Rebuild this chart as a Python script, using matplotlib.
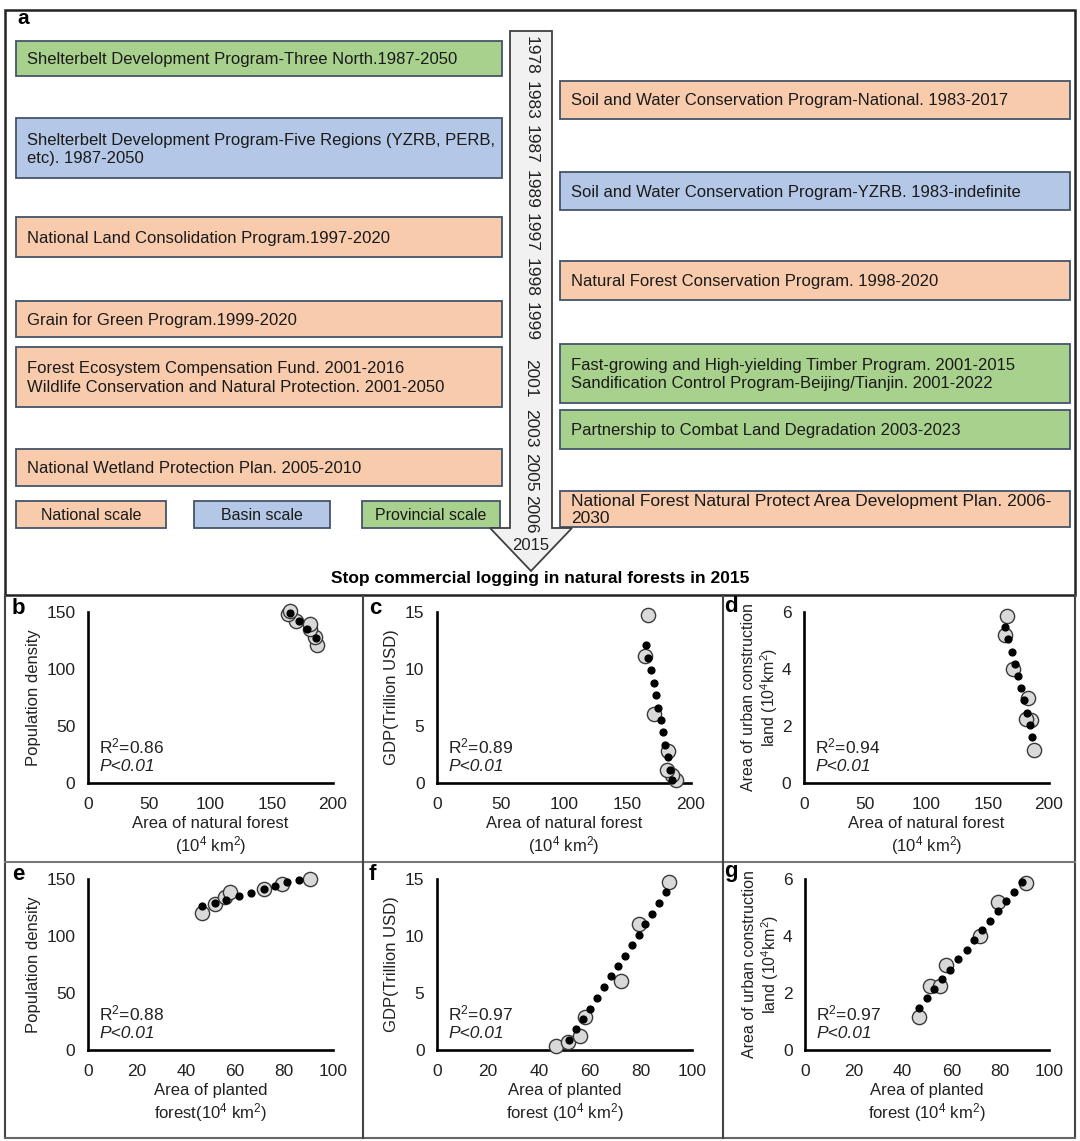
import numpy as np
import matplotlib
matplotlib.use('Agg')
from matplotlib import pyplot as plt, font_manager
from matplotlib.patches import Rectangle, Polygon

plt.rcParams['font.family'] = ['Liberation Sans', 'DejaVu Sans']
plt.rcParams['mathtext.fontset'] = 'custom'
plt.rcParams['mathtext.rm'] = 'Liberation Sans'
plt.rcParams['mathtext.it'] = 'Liberation Sans:italic'
plt.rcParams['mathtext.bf'] = 'Liberation Sans:bold'

_names = {f.name for f in font_manager.fontManager.ttflist}
NARROW = 'Liberation Sans Narrow' if 'Liberation Sans Narrow' in _names else 'Liberation Sans'

######################## panel a : programs timeline ########################
timeline_years = ['1978', '1983', '1987', '1989', '1997', '1998', '1999',
                  '2001', '2003', '2005', '2006']
final_year = '2015'
caption = 'Stop commercial logging in natural forests in 2015'

left_programs = ['Shelterbelt Development Program-Three North.1987-2050',
                 'Shelterbelt Development Program-Five Regions (YZRB, PERB,\netc). 1987-2050',
                 'National Land Consolidation Program.1997-2020',
                 'Grain for Green Program.1999-2020',
                 'Forest Ecosystem Compensation Fund. 2001-2016\nWildlife Conservation and Natural Protection. 2001-2050',
                 'National Wetland Protection Plan. 2005-2010']
left_scales = ['Provincial', 'Basin', 'National', 'National', 'National', 'National']

right_programs = ['Soil and Water Conservation Program-National. 1983-2017',
                  'Soil and Water Conservation Program-YZRB. 1983-indefinite',
                  'Natural Forest Conservation Program. 1998-2020',
                  'Fast-growing and High-yielding Timber Program. 2001-2015\nSandification Control Program-Beijing/Tianjin. 2001-2022',
                  'Partnership to Combat Land Degradation 2003-2023',
                  'National Forest Natural Protect Area Development Plan. 2006-\n2030']
right_scales = ['National', 'Basin', 'National', 'Provincial', 'Provincial', 'National']

scale_labels = ['National', 'Basin', 'Provincial']

######################## panels b-g : scatter data ########################
# natural forest (10^4 km2) vs population density
nat_pop_x = [187, 185, 181, 181.5, 170, 163.5, 164.6]
nat_pop_y = [121, 128, 135, 139.5, 142, 148, 151]
nat_pop_dot_x = [164.6, 172, 179, 186]
nat_pop_dot_y = [149.5, 142, 135, 127]

# natural forest vs GDP (trillion USD)
nat_gdp_x = [187.9, 184.8, 180.9, 182.2, 170.9, 163.8, 166.4]
nat_gdp_y = [0.29, 0.67, 1.17, 2.84, 6.09, 11.13, 14.75]
nat_gdp_dot_x = [164.4, 166.4, 168.5, 170.5, 172.3, 174.4, 176.2, 178.0, 179.9, 182.0, 183.8, 184.8]
nat_gdp_dot_y = [12.07, 10.99, 9.9, 8.79, 7.7, 6.59, 5.57, 4.45, 3.37, 2.29, 1.17, 0.23]

# natural forest vs urban construction land (10^4 km2)
nat_urb_x = [187.5, 185.6, 181, 182.9, 170.6, 164.4, 165.7]
nat_urb_y = [1.17, 2.2, 2.23, 2.99, 4.0, 5.18, 5.87]
nat_urb_dot_x = [164.4, 166.8, 169.5, 172.0, 174.4, 176.9, 179.3, 181.8, 184.2, 186.4]
nat_urb_dot_y = [5.46, 5.05, 4.61, 4.17, 3.75, 3.32, 2.91, 2.46, 2.03, 1.62]

# planted forest vs population density
pla_pop_x = [46.5, 51.7, 56, 58, 71.7, 79.2, 90.5]
pla_pop_y = [120, 128.3, 134, 138.3, 141.5, 145.9, 150]
pla_pop_dot_x = [46.5, 51.7, 56.5, 61.5, 66.7, 71.7, 76.3, 81.2, 86.1]
pla_pop_dot_y = [125.9, 128.8, 131.7, 134.9, 137.8, 141.0, 143.9, 147.1, 149.1]

# planted forest vs GDP
pla_gdp_x = [46.8, 51.2, 55.9, 58.2, 72.3, 79.1, 91.1]
pla_gdp_y = [0.35, 0.7, 1.22, 2.88, 6.09, 11.07, 14.71]
pla_gdp_dot_x = [51.8, 54.6, 57.4, 60.1, 62.9, 65.6, 68.2, 70.9, 73.6, 76.3, 79.1, 81.7, 84.4, 87.1, 89.7]
pla_gdp_dot_y = [0.87, 1.8, 2.74, 3.64, 4.57, 5.5, 6.47, 7.34, 8.27, 9.2, 10.1, 11.04, 11.94, 12.87, 13.84]

# planted forest vs urban construction land
pla_urb_x = [46.7, 51.2, 55.5, 57.7, 71.9, 78.9, 90.5]
pla_urb_y = [1.17, 2.23, 2.23, 2.98, 4.0, 5.18, 5.85]
pla_urb_dot_x = [46.7, 49.8, 52.9, 56.3, 59.6, 62.8, 66.2, 69.3, 72.6, 75.9, 79.1, 82.3, 85.5, 88.8]
pla_urb_dot_y = [1.46, 1.81, 2.14, 2.49, 2.82, 3.18, 3.52, 3.87, 4.22, 4.54, 4.89, 5.22, 5.56, 5.9]

r2_values = ['0.86', '0.89', '0.94', '0.88', '0.97', '0.97']

############################################################################
W, H = 1080, 1141
fig = plt.figure(figsize=(W / 100, H / 100), dpi=100)
ax0 = fig.add_axes([0, 0, 1, 1])
ax0.set_xlim(0, W)
ax0.set_ylim(H, 0)
ax0.axis('off')

scale_colors = {'National': '#F8CBAD', 'Basin': '#B4C7E7', 'Provincial': '#A9D18E'}
box_edge = '#44546A'

# frames
ax0.add_patch(Rectangle((5, 10), 1070, 585, fill=False, ec='#222222', lw=1.8))
ax0.plot([5, 5], [595, 1138], color='#444444', lw=1.5)
ax0.plot([1075, 1075], [595, 1138], color='#444444', lw=1.5)
ax0.plot([5, 1075], [1138, 1138], color='#666666', lw=1.5)
ax0.plot([5, 1075], [862, 862], color='#777777', lw=1.5)
ax0.plot([363, 363], [595, 1138], color='#444444', lw=1.5)
ax0.plot([723, 723], [595, 1138], color='#444444', lw=1.5)

# programme boxes (layout: top/bottom pixel rows)
left_rows = [(41, 76), (118, 178), (217, 257), (301, 337), (347, 407), (449, 486)]
right_rows = [(81, 119), (172, 210), (261, 300), (344, 403), (410, 449), (491, 527)]

def draw_box(x0, x1, row, txt, scale, family='Liberation Sans', size=12, ls=1.25):
    y0, y1 = row
    ax0.add_patch(Rectangle((x0, y0), x1 - x0, y1 - y0, fc=scale_colors[scale],
                            ec=box_edge, lw=1.3))
    ax0.text(x0 + 11, (y0 + y1) / 2 + 1, txt, ha='left', va='center', fontsize=size,
             family=family, linespacing=ls, color='#1a1a1a')

for txt, sc, row in zip(left_programs, left_scales, left_rows):
    draw_box(16, 502, row, txt, sc)
for i, (txt, sc, row) in enumerate(zip(right_programs, right_scales, right_rows)):
    if i == len(right_programs) - 1:
        draw_box(560, 1070, row, txt, sc, family=[NARROW, 'Liberation Sans'], size=12.5, ls=1.1)
    else:
        draw_box(560, 1070, row, txt, sc)

# legend boxes
legend_cols = [(16, 166), (194, 330), (362, 500)]
for name, (x0, x1) in zip(scale_labels, legend_cols):
    ax0.add_patch(Rectangle((x0, 501), x1 - x0, 27, fc=scale_colors[name], ec=box_edge, lw=1.3))
    ax0.text((x0 + x1) / 2, 515, name + ' scale', ha='center', va='center',
             fontsize=11.5, family=[NARROW, 'Liberation Sans'], color='#1a1a1a')

# timeline arrow
arrow = Polygon([(510, 31), (552, 31), (552, 528), (572, 528), (531, 571),
                 (490, 528), (510, 528)], closed=True, fc='#f1f1f1', ec='#404040', lw=1.3)
ax0.add_patch(arrow)
year_rows = [55, 100, 144, 189, 232, 277, 322, 378, 428, 472, 514]
for yr, yy in zip(timeline_years, year_rows):
    ax0.text(531, yy, yr, rotation=270, ha='center', va='center', fontsize=12.5, color='#222222')
ax0.text(531, 546, final_year, ha='center', va='center', fontsize=12, color='#222222')
ax0.text(540, 579, caption, ha='center', va='center', fontsize=12.5, fontweight='bold',
         family=[NARROW, 'Liberation Sans'])
ax0.text(17, 19, 'a', ha='left', va='center', fontsize=15, fontweight='bold')

############################ scatter panels ############################
def add_px_axes(x0, x1, ybot, ytop):
    return fig.add_axes([x0 / W, 1 - ybot / H, (x1 - x0) / W, (ybot - ytop) / H])

def scatter_panel(rect, obs_x, obs_y, dot_x, dot_y, xlim, ylim, xticks, yticks,
                  xlabel, ylabel, r2, letter, letter_xy, ypad=4, ysize=12):
    ax = add_px_axes(*rect)
    ax.set_facecolor('none')
    ax.scatter(obs_x, obs_y, s=105, c='#d9d9d9', edgecolors='#3a3a3a', linewidths=1.0,
               zorder=3, clip_on=False)
    ax.scatter(dot_x, dot_y, s=24, c='black', zorder=4, clip_on=False)
    ax.set_xlim(*xlim)
    ax.set_ylim(*ylim)
    ax.set_xticks(xticks)
    ax.set_yticks(yticks)
    for side in ['top', 'right']:
        ax.spines[side].set_visible(False)
    for side in ['left', 'bottom']:
        ax.spines[side].set_linewidth(1.9)
        ax.spines[side].set_color('black')
    ax.tick_params(axis='both', length=0, labelsize=12.5, colors='#222222')
    ax.tick_params(axis='x', pad=10)
    ax.tick_params(axis='y', pad=9)
    ax.set_xlabel(xlabel, fontsize=12, labelpad=3, linespacing=1.15, color='#222222')
    ax.set_ylabel(ylabel, fontsize=ysize, labelpad=ypad, linespacing=1.15, color='#222222')
    ax.text(0.045, 0.215, 'R$^2$=' + r2, transform=ax.transAxes, fontsize=12.5,
            va='center', ha='left', color='#222222')
    ax.text(0.045, 0.095, 'P<0.01', transform=ax.transAxes, fontsize=12.5,
            va='center', ha='left', style='italic', color='#222222')
    ax0.text(letter_xy[0], letter_xy[1], letter, fontsize=16, fontweight='bold',
             ha='left', va='center')
    return ax

nat_label = 'Area of natural forest\n(10$^4$ km$^2$)'
urb_label = 'Area of urban construction\nland (10$^4$km$^2$)'

scatter_panel((88, 333, 783, 612), nat_pop_x, nat_pop_y, nat_pop_dot_x, nat_pop_dot_y,
              (0, 200), (0, 150), [0, 50, 100, 150, 200], [0, 50, 100, 150],
              nat_label, 'Population density', r2_values[0], 'b', (12, 609))
scatter_panel((437, 691, 783, 612), nat_gdp_x, nat_gdp_y, nat_gdp_dot_x, nat_gdp_dot_y,
              (0, 200), (0, 15), [0, 50, 100, 150, 200], [0, 5, 10, 15],
              nat_label, 'GDP(Trillion USD)', r2_values[1], 'c', (369, 609))
scatter_panel((804, 1049, 783, 612), nat_urb_x, nat_urb_y, nat_urb_dot_x, nat_urb_dot_y,
              (0, 200), (0, 6), [0, 50, 100, 150, 200], [0, 2, 4, 6],
              nat_label, urb_label, r2_values[2], 'd', (724, 607), ypad=1, ysize=11.5)
scatter_panel((88, 333, 1050, 879), pla_pop_x, pla_pop_y, pla_pop_dot_x, pla_pop_dot_y,
              (0, 100), (0, 150), [0, 20, 40, 60, 80, 100], [0, 50, 100, 150],
              'Area of planted\nforest(10$^4$ km$^2$)', 'Population density', r2_values[3],
              'e', (12, 874))
scatter_panel((437, 692, 1050, 879), pla_gdp_x, pla_gdp_y, pla_gdp_dot_x, pla_gdp_dot_y,
              (0, 100), (0, 15), [0, 20, 40, 60, 80, 100], [0, 5, 10, 15],
              'Area of planted\nforest (10$^4$ km$^2$)', 'GDP(Trillion USD)', r2_values[4],
              'f', (369, 874))
scatter_panel((805, 1049, 1050, 879), pla_urb_x, pla_urb_y, pla_urb_dot_x, pla_urb_dot_y,
              (0, 100), (0, 6), [0, 20, 40, 60, 80, 100], [0, 2, 4, 6],
              'Area of planted\nforest (10$^4$ km$^2$)', urb_label, r2_values[5],
              'g', (724, 872), ypad=1, ysize=11.5)

fig.savefig('out.png', dpi=100)
